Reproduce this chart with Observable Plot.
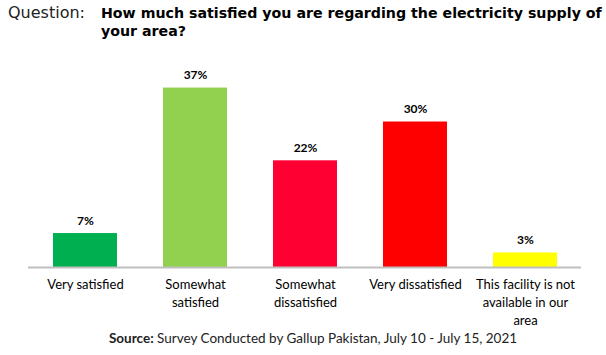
<!DOCTYPE html>
<html>
<head>
<meta charset="utf-8">
<script src="https://cdn.jsdelivr.net/npm/d3@7"></script>
<script src="https://cdn.jsdelivr.net/npm/@observablehq/plot@0.6"></script>
<style>
  html, body { margin: 0; padding: 0; background: #fff; }
  #wrap { width: 606px; height: 355px; position: relative; overflow: hidden; }
  #title { position: relative; height: 44px; font-family: "DejaVu Sans", sans-serif; color: #000; }
  #title .q { position: absolute; left: 8px; top: 3px; font-size: 16px; color: #222; }
  #title .t { position: absolute; left: 101px; top: 4px; font-size: 14.2px; font-weight: bold; line-height: 18px; white-space: nowrap; }
  #caption { text-align: center; font-family: Lato, "Open Sans", sans-serif; font-size: 13.5px; color: #222; margin-top: -2px; padding-left: 20px; }
  svg { display: block; }
</style>
</head>
<body>
<div id="wrap">
  <div id="title"><span class="q">Question:</span><span class="t">How much satisfied you are regarding the electricity supply of<br>your area?</span></div>
  <div id="chart"></div>
  <div id="caption"><b>Source:</b> Survey Conducted by Gallup Pakistan, July 10 - July 15, 2021</div>
</div>
<script>
const categories = ["Very satisfied", "Somewhat satisfied", "Somewhat dissatisfied", "Very dissatisfied", "This facility is not available in our area"];
const tickLabels = ["Very satisfied", "Somewhat\nsatisfied", "Somewhat\ndissatisfied", "Very dissatisfied", "This facility is not\navailable in our\narea"];
const values = [7, 37, 22, 30, 3];
const colors = ["#00b050", "#92d050", "#ff0033", "#ff0000", "#ffff00"];

const data = categories.map((c, i) => ({category: c, value: values[i], label: tickLabels[i], color: colors[i]}));

const chart = Plot.plot({
  width: 606,
  height: 288,
  marginTop: 29,
  marginBottom: 65,
  marginLeft: 28,
  marginRight: 25,
  style: {fontFamily: "Lato, 'Open Sans', sans-serif", background: "#fff"},
  x: {domain: categories, paddingInner: 0.42, paddingOuter: 0.21, axis: null},
  y: {domain: [0, 40], axis: null},
  marks: [
    Plot.barY(data, {x: "category", y: "value", fill: "color"}),
    Plot.ruleY([0], {stroke: "#bfbfbf", strokeWidth: 2}),
    Plot.text(data, {x: "category", y: "value", text: d => d.value + "%", dy: -9, lineAnchor: "bottom", fontWeight: "bold", fontSize: 12, fill: "#000"}),
    Plot.text(data, {x: "category", y: 0, text: "label", dy: 9, lineAnchor: "top", lineHeight: 1.38, fontSize: 13, fill: "#000"})
  ]
});
document.getElementById("chart").appendChild(chart);
</script>
</body>
</html>
